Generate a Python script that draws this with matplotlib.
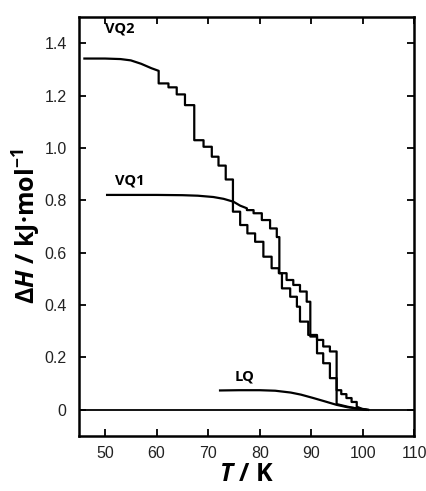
import numpy as np
import matplotlib
matplotlib.use('Agg')
import matplotlib.pyplot as plt

plt.rcParams['mathtext.fontset'] = 'custom'
plt.rcParams['mathtext.rm'] = 'Open Sans:bold'
plt.rcParams['mathtext.it'] = 'Open Sans:bold:italic'

# VQ2: smooth start, then staircase (step position, level after step)
vq2_T = [46.0, 50.0, 53.0, 55.0, 57.0, 59.0, 60.4]
vq2_H = [1.342, 1.342, 1.340, 1.335, 1.322, 1.305, 1.295]
vq2_step_T = [60.4, 62.3, 63.9, 65.5, 67.3, 69.1, 70.7, 72.0, 73.4, 74.8,
              76.2, 77.6, 79.1, 80.7, 82.3, 83.7, 84.3, 85.9, 87.2, 87.8,
              89.4, 91.1, 92.3, 93.6, 94.9, 95.8, 96.8, 97.8, 98.8]
vq2_step_H = [1.247, 1.232, 1.205, 1.164, 1.030, 1.005, 0.967, 0.933, 0.880, 0.757,
              0.706, 0.674, 0.642, 0.585, 0.541, 0.522, 0.464, 0.432, 0.394, 0.337,
              0.286, 0.216, 0.178, 0.121, 0.075, 0.060, 0.045, 0.030, 0.012]
vq2_tail_T = [99.8, 101.0]
vq2_tail_H = [0.004, 0.0]

# VQ1
vq1_T = [50.4, 55.0, 60.0, 65.0, 68.0, 71.0, 73.0, 74.9, 76.2, 77.5]
vq1_H = [0.821, 0.821, 0.821, 0.820, 0.818, 0.813, 0.806, 0.795, 0.780, 0.770]
vq1_step_T = [77.5, 78.8, 80.4, 82.0, 83.3, 83.8, 85.2, 86.5, 87.8, 89.1,
              89.8, 91.1, 92.3, 93.6, 94.9]
vq1_step_H = [0.763, 0.751, 0.725, 0.693, 0.660, 0.522, 0.496, 0.477, 0.452, 0.413,
              0.280, 0.267, 0.242, 0.223, 0.022]
vq1_tail_T = [97.0, 99.0, 100.5]
vq1_tail_H = [0.012, 0.004, 0.0]

# LQ
lq_T = [72.3, 76.0, 80.0, 83.0, 86.0, 88.0, 90.4, 92.5, 94.9, 97.0, 99.5, 101.0]
lq_H = [0.074, 0.075, 0.075, 0.073, 0.066, 0.058, 0.045, 0.033, 0.019, 0.010, 0.004, 0.0]

xticks = [50, 60, 70, 80, 90, 100, 110]
yticks = [0, 0.2, 0.4, 0.6, 0.8, 1.0, 1.2, 1.4]
ytick_labels = ['0', '0.2', '0.4', '0.6', '0.8', '1.0', '1.2', '1.4']


def staircase(t, h, step_t, step_h, tail_t, tail_h):
    xs, ys = list(t), list(h)
    for st, sh in zip(step_t, step_h):
        xs += [st, st]
        ys += [ys[-1], sh]
    return xs + list(tail_t), ys + list(tail_h)


fig = plt.figure(figsize=(4.26, 4.91), dpi=100)
ax = fig.add_axes([0.186, 0.112, 0.787, 0.853])

ax.axhline(0, color='black', lw=1.3)
x, y = staircase(vq2_T, vq2_H, vq2_step_T, vq2_step_H, vq2_tail_T, vq2_tail_H)
ax.plot(x, y, color='black', lw=1.6)
x, y = staircase(vq1_T, vq1_H, vq1_step_T, vq1_step_H, vq1_tail_T, vq1_tail_H)
ax.plot(x, y, color='black', lw=1.6)
ax.plot(lq_T, lq_H, color='black', lw=1.6)

lab = dict(fontsize=10.5, family='Open Sans', fontweight='bold', ha='center', va='center')
ax.text(52.8, 1.455, 'VQ2', **lab)
ax.text(54.7, 0.878, 'VQ1', **lab)
ax.text(77.0, 0.127, 'LQ', **lab)

ax.set_xlim(45, 110)
ax.set_ylim(-0.1, 1.5)
ax.set_xticks(xticks)
ax.set_yticks(yticks)
ax.set_yticklabels(ytick_labels)
ax.tick_params(direction='in', length=5, width=1.3, top=True, right=True,
               labelsize=11.5, labelcolor='#222222')
ax.tick_params(axis='y', pad=9)
ax.tick_params(axis='x', pad=7)
for lbl in ax.get_xticklabels() + ax.get_yticklabels():
    lbl.set_family('Liberation Sans')
for s in ax.spines.values():
    s.set_linewidth(1.8)

ax.set_xlabel(r'$\mathit{T}$ / K', fontsize=18, family='Open Sans', fontweight='bold', labelpad=1)
ax.set_ylabel(r'$\Delta\mathit{H}$ / kJ·mol$^{-1}$', fontsize=18, family='Open Sans',
              fontweight='bold', labelpad=2)

fig.savefig('out.png', dpi=100)
